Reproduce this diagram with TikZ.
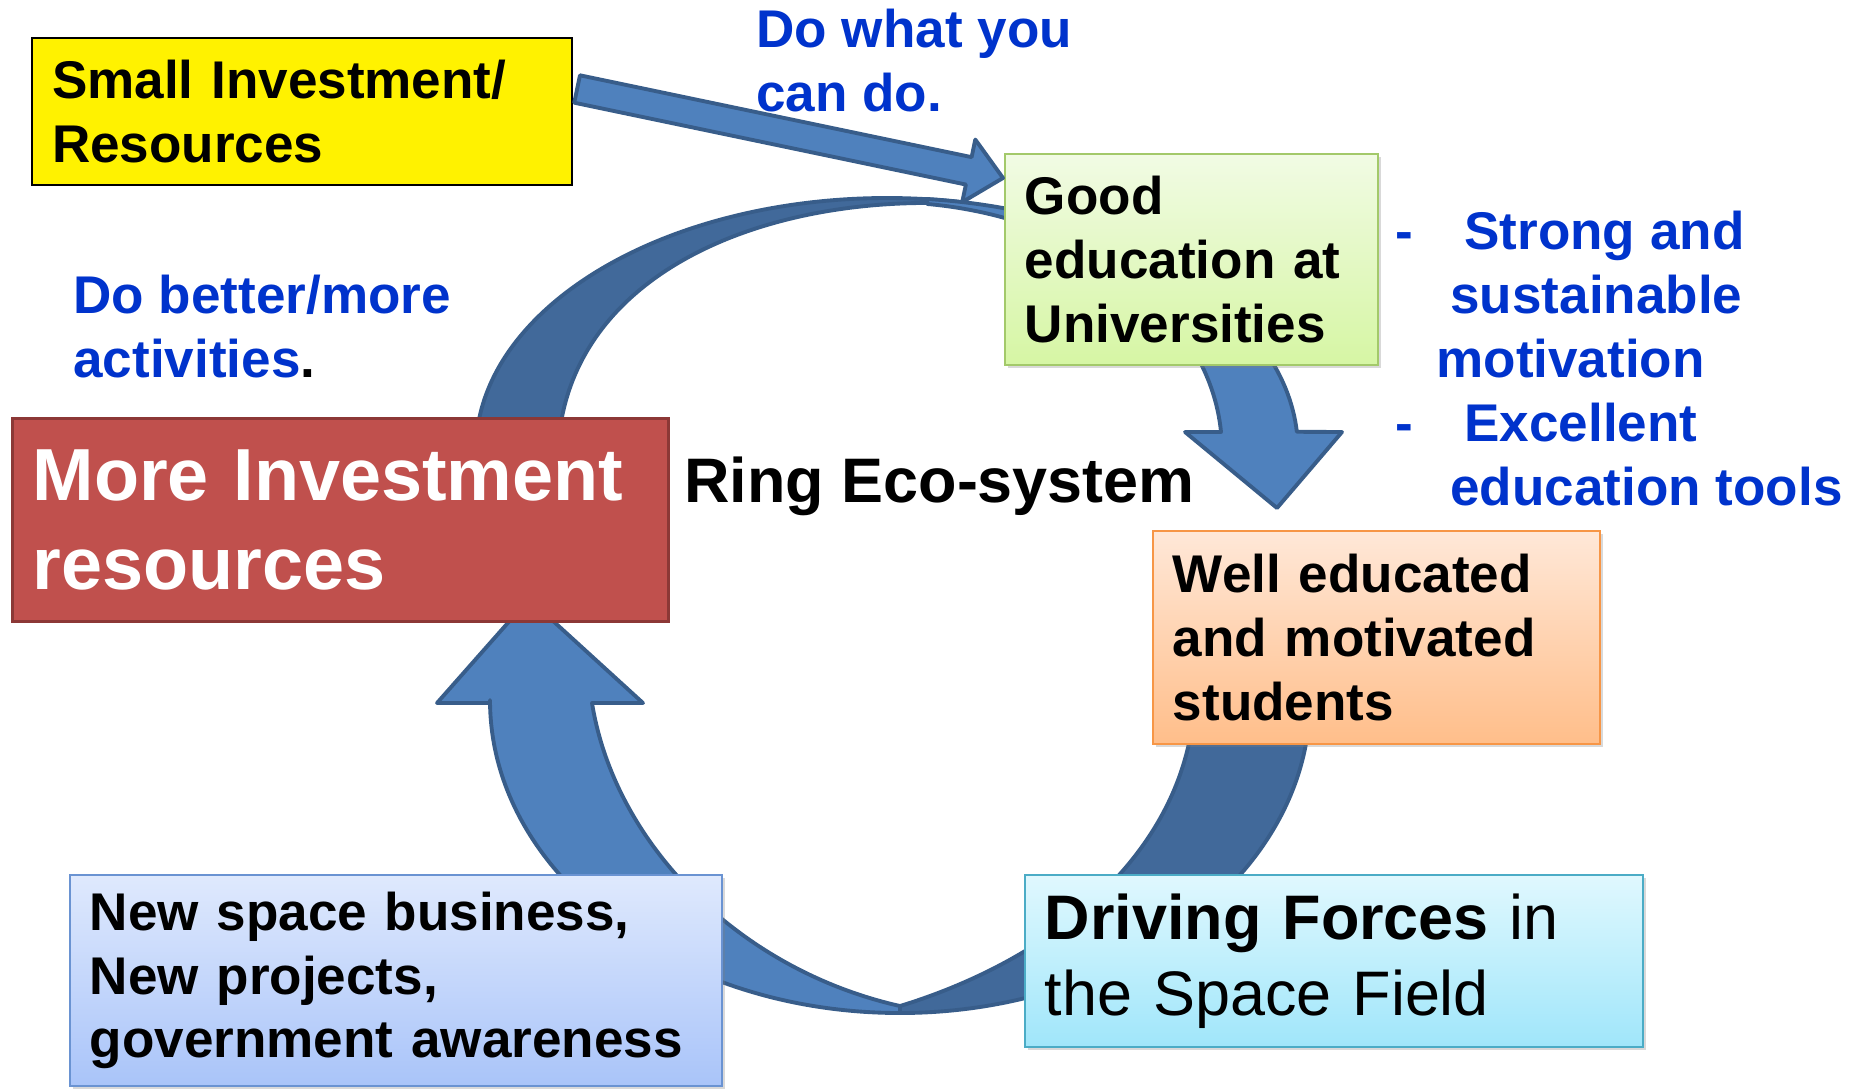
\documentclass[tikz,border=0pt]{standalone}
\usepackage{fontspec}
\setmainfont{Liberation Sans}
\usetikzlibrary{calc, shadows, backgrounds, positioning, arrows.meta}

\definecolor{arrowblue}{HTML}{4F81BD}
\definecolor{arrowdark}{HTML}{41699A}
\definecolor{arrowline}{HTML}{385D8A}
\definecolor{notesblue}{HTML}{0033CC}
\definecolor{greentop}{HTML}{F1FBE4}
\definecolor{greenbot}{HTML}{D6F6A4}
\definecolor{greenline}{HTML}{A3C96A}
\definecolor{orangetop}{HTML}{FFE8D8}
\definecolor{orangebot}{HTML}{FFBE8A}
\definecolor{orangeline}{HTML}{F79646}
\definecolor{bluetop}{HTML}{DFE9FD}
\definecolor{bluebot}{HTML}{A9C4F9}
\definecolor{blueline}{HTML}{6A93D2}
\definecolor{cyantop}{HTML}{E0F8FE}
\definecolor{cyanbot}{HTML}{A0E6FA}
\definecolor{cyanline}{HTML}{4BACC6}
\definecolor{redfill}{HTML}{C0504D}
\definecolor{redline}{HTML}{8C3836}

\newcommand{\ecoText}{\fontsize{15.1pt}{18.2pt}\selectfont\bfseries}
\newcommand{\ecoBig}{\fontsize{21pt}{25.3pt}\selectfont\bfseries}
\newcommand{\ecoMid}{\fontsize{17.9pt}{21.6pt}\selectfont}

\begin{document}
\begin{tikzpicture}[thick, >=Stealth]
  \useasboundingbox (0,0) rectangle (18.54,-10.88);
  % Define styles
  \tikzstyle{card} = [rectangle, anchor=north west, align=left, inner xsep=0.2cm, inner ysep=0pt, line width=0.5pt, font=\ecoText]
  \tikzstyle{softshadow} = [drop shadow={shadow xshift=0.035cm, shadow yshift=-0.035cm, opacity=0.3}]
  \tikzstyle{remark} = [anchor=base west, align=left, inner sep=0pt, font=\ecoText, text=notesblue]
  \tikzstyle{ribbon} = [fill=arrowblue, draw=arrowline, line width=1.1pt, line join=round]
  \tikzstyle{ribbonback} = [fill=arrowdark, draw=arrowline, line width=1.1pt, line join=round]

  % Place nodes
  \node [card, draw=black, line width=0.6pt, fill=yellow, text width=5.0cm, minimum height=1.47cm] (smallinv) at (0.31,-0.37) {Small Investment/\\Resources};
  \node [card, softshadow, draw=greenline, top color=greentop, bottom color=greenbot, text width=3.33cm, minimum height=2.11cm] (goodedu) at (10.04,-1.53) {Good\\education at\\Universities};
  \node [card, draw=redline, line width=0.9pt, fill=redfill, text=white, font=\ecoBig, text width=6.16cm, minimum height=2.03cm] (moreinv) at (0.11,-4.17) {More Investment\\resources};
  \node [card, softshadow, draw=orangeline, top color=orangetop, bottom color=orangebot, text width=4.07cm, minimum height=2.13cm] (wellstud) at (11.52,-5.30) {Well educated\\and motivated\\students};
  \node [card, softshadow, draw=blueline, top color=bluetop, bottom color=bluebot, text width=6.12cm, minimum height=2.11cm] (newbiz) at (0.69,-8.74) {New space business,\\New projects,\\government awareness};
  \node [card, softshadow, draw=cyanline, top color=cyantop, bottom color=cyanbot, font=\ecoMid, text width=5.78cm, minimum height=1.72cm] (driving) at (10.24,-8.74) {\textbf{Driving Forces} in\\the Space Field};

  % notes (base = last line)
  \node [remark] (dowhat) at (7.55,-1.11) {Do what you\\can do.};
  \node [remark] (dobetter) at (0.72,-3.77) {Do better/more\\activities\textcolor{black}{.}};
  \node [anchor=base west, inner sep=0pt, font=\ecoMid\bfseries] (ring) at (6.83,-5.02) {Ring Eco-system};
  \node [remark] (goals) at (13.94,-5.05) {\makebox[0.69cm][l]{-}Strong and\\\hspace*{0.55cm}sustainable\\\hspace*{0.41cm}motivation\\\makebox[0.69cm][l]{-}Excellent\\\hspace*{0.55cm}education tools};

  % Draw edges
  \coordinate (tail) at ($(smallinv.north east)+(0.04,-0.52)$);
  \coordinate (tip) at ($(goodedu.north west)+(-0.01,-0.25)$);
  \coordinate (hb) at ($(tip)!0.35cm!(tail)$);
  \filldraw [ribbon] ($(tail)!0.14cm!90:(tip)$) -- ($(hb)!0.14cm!-90:(tail)$) -- ($(hb)!0.32cm!-90:(tail)$) -- (tip)
    -- ($(hb)!0.32cm!90:(tail)$) -- ($(hb)!0.14cm!90:(tail)$) -- ($(tail)!0.14cm!-90:(tip)$) -- cycle;

  \begin{pgfonlayer}{background}
    % ring, back sides
    \filldraw [ribbonback] (4.76,-5.0) -- (4.76,-4.50) arc[start angle=180, end angle=80, x radius=4.11, y radius=2.52]
      -- (9.2,-2.03) .. controls (7.5,-2.05) and (5.9,-2.75) .. (5.62,-4.17) -- (5.62,-5.0) -- cycle;
    \filldraw [ribbonback] (9.0,-10.13) arc[start angle=270, end angle=365, x radius=4.10, y radius=3.13]
      -- (11.95,-6.73) -- (11.93,-7.2) .. controls (11.75,-8.6) and (10.5,-9.6) .. (9.0,-10.06) -- cycle;
    % ring, front sides with heads
    \filldraw [ribbon] (9.27,-1.99) arc[start angle=84.4, end angle=4.1, x radius=4.11, y radius=2.52]
      -- (13.42,-4.32) -- (12.77,-5.08) -- (11.85,-4.32) -- (12.21,-4.32)
      arc[start angle=4.2, end angle=83.1, x radius=3.35, y radius=2.48] -- cycle;
    \filldraw [ribbon] (9.0,-10.13) arc[start angle=270, end angle=180, x radius=4.10, y radius=3.13]
      -- (4.90,-7.03) -- (4.37,-7.03) -- (5.29,-5.99) -- (6.43,-7.03) -- (5.92,-7.03)
      .. controls (6.15,-8.45) and (7.4,-9.7) .. (9.0,-10.06) -- cycle;
  \end{pgfonlayer}
\end{tikzpicture}
\end{document}
